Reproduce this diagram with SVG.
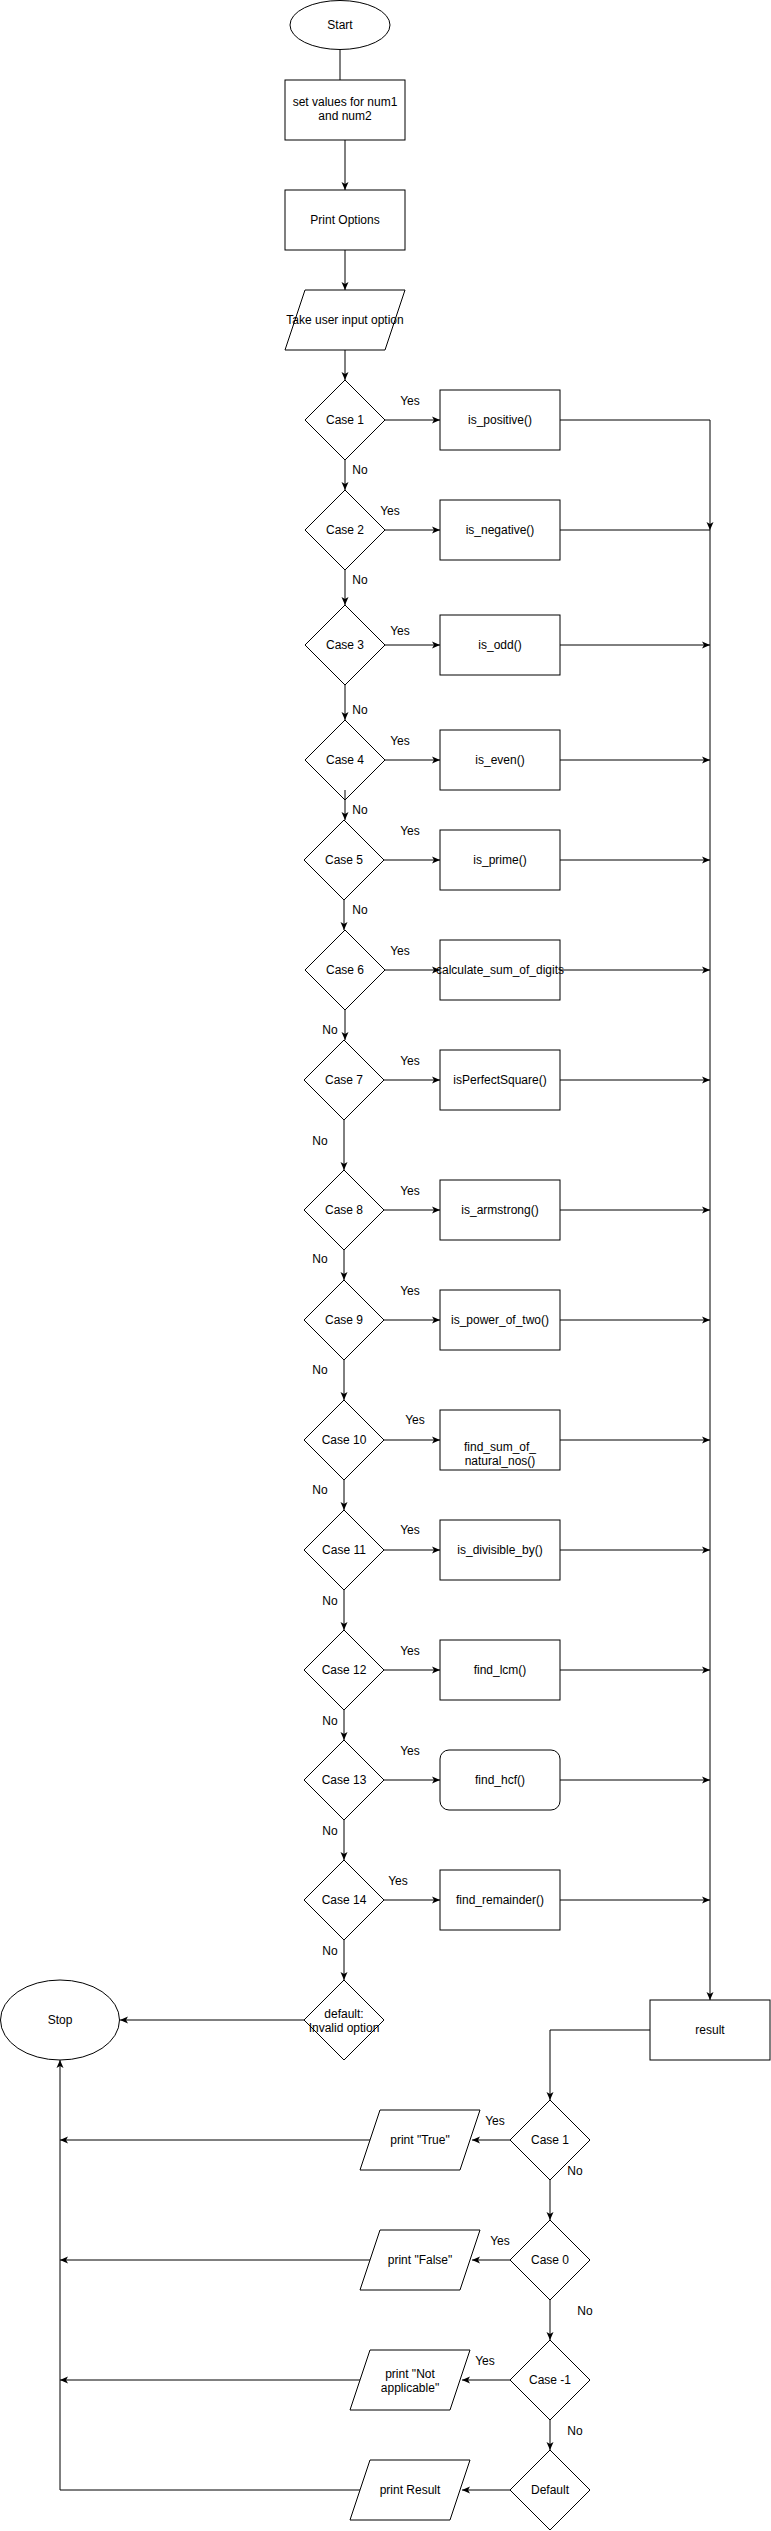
<svg xmlns="http://www.w3.org/2000/svg" width="771" height="2531" viewBox="0 0 771 2531">
<defs>
<style>
.s{fill:#fff;stroke:#000;stroke-width:1}
.c{fill:none;stroke:#000;stroke-width:1}
.a{fill:none;stroke:#000;stroke-width:1;marker-end:url(#arr)}
text{font-family:"Liberation Sans",Arial,Helvetica,sans-serif;font-size:12px;fill:#000;text-anchor:middle}
</style>
<marker id="arr" viewBox="0 0 8 8" markerWidth="8" markerHeight="8" refX="8" refY="4" orient="auto" markerUnits="userSpaceOnUse">
<path d="M0,0.5 L8,4 L0,7.5 L2,4 z" fill="#000"/>
</marker>
</defs>
<rect width="771" height="2531" fill="#fff"/>

<g id="connectors">
<path class="c" d="M340,50 V80"/>
<path class="a" d="M345,140 V190"/>
<path class="a" d="M345,250 V290"/>
<path class="a" d="M345,350 V380"/>
<!-- No chain -->
<path class="a" d="M345,460 V490"/>
<path class="a" d="M345,570 V605"/>
<path class="a" d="M345,685 V720"/>
<path class="a" d="M345,790 V820"/>
<path class="a" d="M344,900 V930"/>
<path class="a" d="M345,1010 V1040"/>
<path class="a" d="M344,1120 V1170"/>
<path class="a" d="M344,1250 V1280"/>
<path class="a" d="M344,1360 V1400"/>
<path class="a" d="M344,1480 V1510"/>
<path class="a" d="M344,1590 V1630"/>
<path class="a" d="M344,1710 V1740"/>
<path class="a" d="M344,1820 V1860"/>
<path class="a" d="M344,1940 V1980"/>
<!-- Yes arrows -->
<path class="a" d="M385,420 H440"/>
<path class="a" d="M385,530 H440"/>
<path class="a" d="M385,645 H440"/>
<path class="a" d="M385,760 H440"/>
<path class="a" d="M384,860 H440"/>
<path class="a" d="M385,970 H440"/>
<path class="a" d="M384,1080 H440"/>
<path class="a" d="M384,1210 H440"/>
<path class="a" d="M384,1320 H440"/>
<path class="a" d="M384,1440 H440"/>
<path class="a" d="M384,1550 H440"/>
<path class="a" d="M384,1670 H440"/>
<path class="a" d="M384,1780 H440"/>
<path class="a" d="M384,1900 H440"/>
<!-- to collector -->
<path class="a" d="M560,420 H710 V530"/>
<path class="c" d="M560,530 H710"/>
<path class="a" d="M560,645 H710"/>
<path class="a" d="M560,760 H710"/>
<path class="a" d="M560,860 H710"/>
<path class="a" d="M560,970 H710"/>
<path class="a" d="M560,1080 H710"/>
<path class="a" d="M560,1210 H710"/>
<path class="a" d="M560,1320 H710"/>
<path class="a" d="M560,1440 H710"/>
<path class="a" d="M560,1550 H710"/>
<path class="a" d="M560,1670 H710"/>
<path class="a" d="M560,1780 H710"/>
<path class="a" d="M560,1900 H710"/>
<path class="a" d="M710,530 V2000"/>
<!-- default to stop -->
<path class="a" d="M305,2020 H120"/>
<!-- result section -->
<path class="a" d="M650,2030 H550 V2100"/>
<path class="a" d="M550,2180 V2220"/>
<path class="a" d="M550,2300 V2340"/>
<path class="a" d="M550,2420 V2450"/>
<path class="a" d="M510,2140 H472"/>
<path class="a" d="M510,2260 H472"/>
<path class="a" d="M510,2380 H462"/>
<path class="a" d="M510,2490 H462"/>
<path class="a" d="M370,2140 H60"/>
<path class="a" d="M370,2260 H60"/>
<path class="a" d="M360,2380 H60"/>
<path class="a" d="M360,2490 H60 V2060"/>
</g>

<g id="labels">
<text x="410" y="405">Yes</text>
<text x="390" y="515">Yes</text>
<text x="400" y="635">Yes</text>
<text x="400" y="745">Yes</text>
<text x="410" y="835">Yes</text>
<text x="400" y="955">Yes</text>
<text x="410" y="1065">Yes</text>
<text x="410" y="1195">Yes</text>
<text x="410" y="1295">Yes</text>
<text x="415" y="1424">Yes</text>
<text x="410" y="1534">Yes</text>
<text x="410" y="1655">Yes</text>
<text x="410" y="1755">Yes</text>
<text x="398" y="1885">Yes</text>
<text x="360" y="474">No</text>
<text x="360" y="584">No</text>
<text x="360" y="714">No</text>
<text x="360" y="814">No</text>
<text x="360" y="914">No</text>
<text x="330" y="1034">No</text>
<text x="320" y="1145">No</text>
<text x="320" y="1263">No</text>
<text x="320" y="1374">No</text>
<text x="320" y="1494">No</text>
<text x="330" y="1605">No</text>
<text x="330" y="1725">No</text>
<text x="330" y="1835">No</text>
<text x="330" y="1955">No</text>
<text x="495" y="2125">Yes</text>
<text x="575" y="2175">No</text>
<text x="500" y="2245">Yes</text>
<text x="585" y="2315">No</text>
<text x="485" y="2365">Yes</text>
<text x="575" y="2435">No</text>
</g>

<g id="start"><ellipse class="s" cx="340" cy="25" rx="50" ry="24.5"/><text x="340" y="29">Start</text></g>
<g id="setvalues"><rect class="s" x="285" y="80" width="120" height="60"/><text x="345" y="106">set values for num1</text><text x="345" y="120">and num2</text></g>
<g id="printoptions"><rect class="s" x="285" y="190" width="120" height="60"/><text x="345" y="224">Print Options</text></g>
<g id="input"><polygon class="s" points="305,290 405,290 385,350 285,350"/><text x="345" y="324">Take user input option</text></g>

<g id="case1"><polygon class="s" points="345,380 385,420 345,460 305,420"/><text x="345" y="424">Case 1</text></g>
<g id="case2"><polygon class="s" points="345,490 385,530 345,570 305,530"/><text x="345" y="534">Case 2</text></g>
<g id="case3"><polygon class="s" points="345,605 385,645 345,685 305,645"/><text x="345" y="649">Case 3</text></g>
<g id="case4"><polygon class="s" points="345,720 385,760 345,800 305,760"/><text x="345" y="764">Case 4</text></g>
<g id="case5"><polygon class="s" points="344,820 384,860 344,900 304,860"/><text x="344" y="864">Case 5</text></g>
<g id="case6"><polygon class="s" points="345,930 385,970 345,1010 305,970"/><text x="345" y="974">Case 6</text></g>
<g id="case7"><polygon class="s" points="344,1040 384,1080 344,1120 304,1080"/><text x="344" y="1084">Case 7</text></g>
<g id="case8"><polygon class="s" points="344,1170 384,1210 344,1250 304,1210"/><text x="344" y="1214">Case 8</text></g>
<g id="case9"><polygon class="s" points="344,1280 384,1320 344,1360 304,1320"/><text x="344" y="1324">Case 9</text></g>
<g id="case10"><polygon class="s" points="344,1400 384,1440 344,1480 304,1440"/><text x="344" y="1444">Case 10</text></g>
<g id="case11"><polygon class="s" points="344,1510 384,1550 344,1590 304,1550"/><text x="344" y="1554">Case 11</text></g>
<g id="case12"><polygon class="s" points="344,1630 384,1670 344,1710 304,1670"/><text x="344" y="1674">Case 12</text></g>
<g id="case13"><polygon class="s" points="344,1740 384,1780 344,1820 304,1780"/><text x="344" y="1784">Case 13</text></g>
<g id="case14"><polygon class="s" points="344,1860 384,1900 344,1940 304,1900"/><text x="344" y="1904">Case 14</text></g>
<g id="default"><polygon class="s" points="344,1980 384,2020 344,2060 304,2020"/><text x="344" y="2018">default:</text><text x="344" y="2032">Invalid option</text></g>
<path class="c" d="M345,790 V800"/>

<g id="f1"><rect class="s" x="440" y="390" width="120" height="60"/><text x="500" y="424">is_positive()</text></g>
<g id="f2"><rect class="s" x="440" y="500" width="120" height="60"/><text x="500" y="534">is_negative()</text></g>
<g id="f3"><rect class="s" x="440" y="615" width="120" height="60"/><text x="500" y="649">is_odd()</text></g>
<g id="f4"><rect class="s" x="440" y="730" width="120" height="60"/><text x="500" y="764">is_even()</text></g>
<g id="f5"><rect class="s" x="440" y="830" width="120" height="60"/><text x="500" y="864">is_prime()</text></g>
<g id="f6"><rect class="s" x="440" y="940" width="120" height="60"/><text x="500" y="974">calculate_sum_of_digits</text></g>
<g id="f7"><rect class="s" x="440" y="1050" width="120" height="60"/><text x="500" y="1084">isPerfectSquare()</text></g>
<g id="f8"><rect class="s" x="440" y="1180" width="120" height="60"/><text x="500" y="1214">is_armstrong()</text></g>
<g id="f9"><rect class="s" x="440" y="1290" width="120" height="60"/><text x="500" y="1324">is_power_of_two()</text></g>
<g id="f10"><rect class="s" x="440" y="1410" width="120" height="60"/><text x="500" y="1451">find_sum_of_</text><text x="500" y="1465">natural_nos()</text></g>
<g id="f11"><rect class="s" x="440" y="1520" width="120" height="60"/><text x="500" y="1554">is_divisible_by()</text></g>
<g id="f12"><rect class="s" x="440" y="1640" width="120" height="60"/><text x="500" y="1674">find_lcm()</text></g>
<g id="f13"><rect class="s" x="440" y="1750" width="120" height="60" rx="9" ry="9"/><text x="500" y="1784">find_hcf()</text></g>
<g id="f14"><rect class="s" x="440" y="1870" width="120" height="60"/><text x="500" y="1904">find_remainder()</text></g>

<g id="stop"><ellipse class="s" cx="60" cy="2020" rx="59.5" ry="40"/><text x="60" y="2024">Stop</text></g>
<g id="result"><rect class="s" x="650" y="2000" width="120" height="60"/><text x="710" y="2034">result</text></g>

<g id="rc1"><polygon class="s" points="550,2100 590,2140 550,2180 510,2140"/><text x="550" y="2144">Case 1</text></g>
<g id="rc0"><polygon class="s" points="550,2220 590,2260 550,2300 510,2260"/><text x="550" y="2264">Case 0</text></g>
<g id="rcm1"><polygon class="s" points="550,2340 590,2380 550,2420 510,2380"/><text x="550" y="2384">Case -1</text></g>
<g id="rdef"><polygon class="s" points="550,2450 590,2490 550,2530 510,2490"/><text x="550" y="2494">Default</text></g>

<g id="ptrue"><polygon class="s" points="380,2110 480,2110 460,2170 360,2170"/><text x="420" y="2144">print "True"</text></g>
<g id="pfalse"><polygon class="s" points="380,2230 480,2230 460,2290 360,2290"/><text x="420" y="2264">print "False"</text></g>
<g id="pna"><polygon class="s" points="370,2350 470,2350 450,2410 350,2410"/><text x="410" y="2378">print "Not</text><text x="410" y="2392">applicable"</text></g>
<g id="presult"><polygon class="s" points="370,2460 470,2460 450,2520 350,2520"/><text x="410" y="2494">print Result</text></g>
</svg>
